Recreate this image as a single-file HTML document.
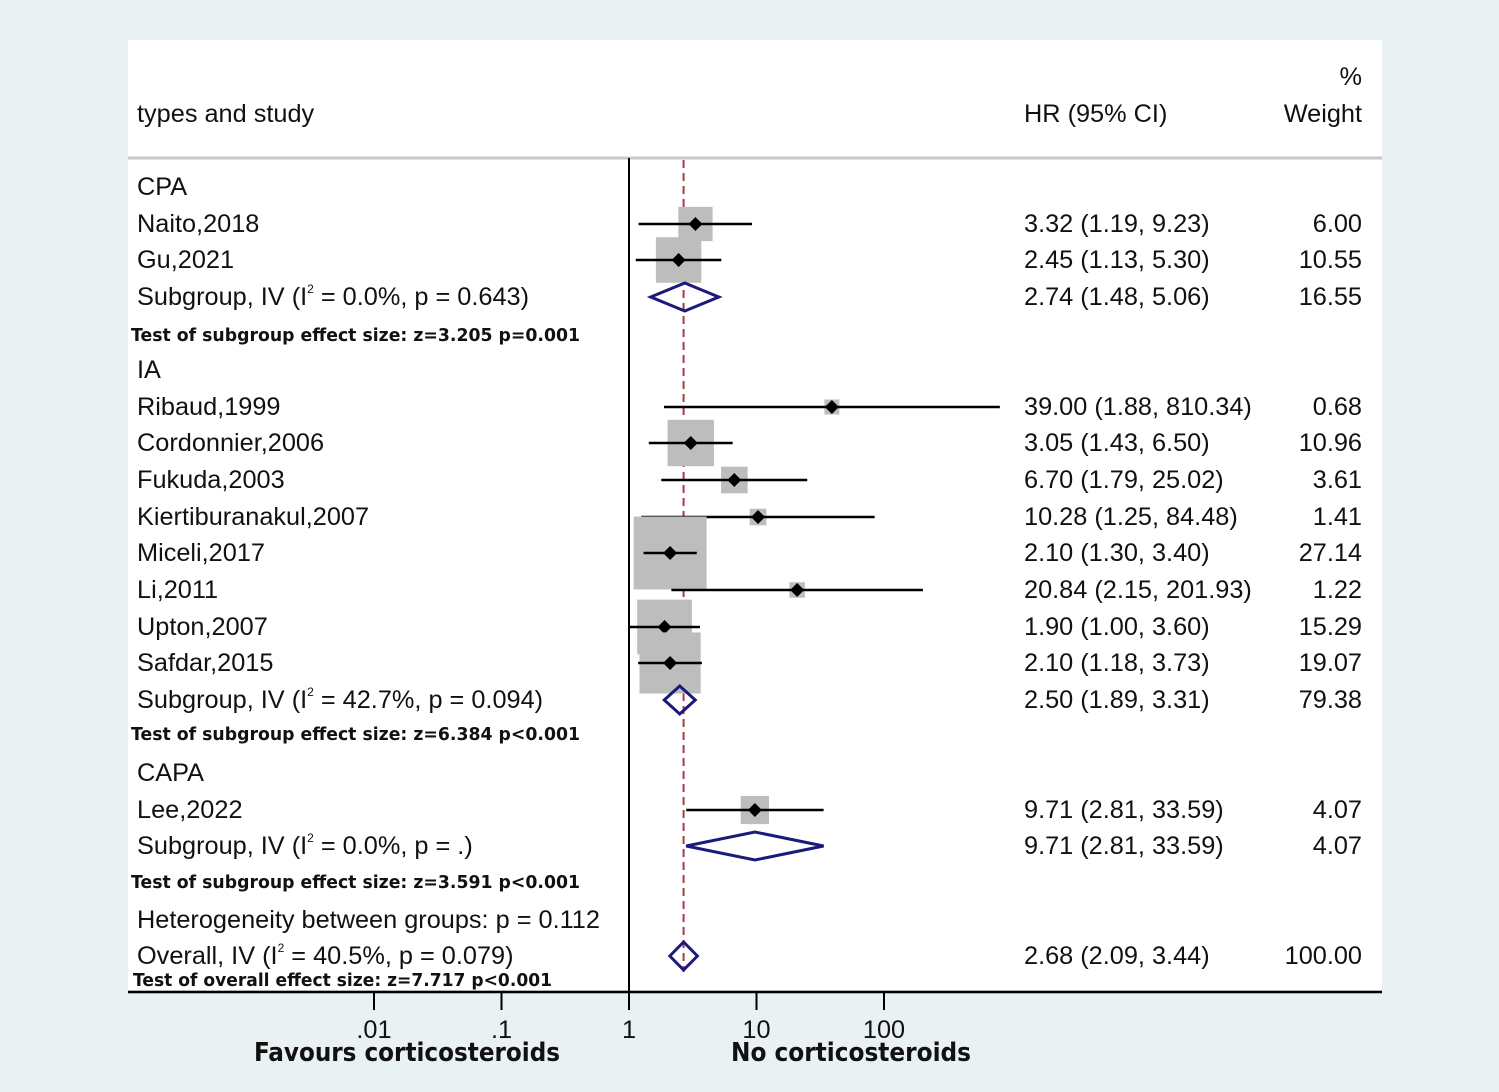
<!DOCTYPE html>
<html><head><meta charset="utf-8"><style>
body{margin:0;background:#e9f1f3;}
svg{display:block}
text{font-family:"Liberation Sans",sans-serif;fill:#111;}
.t{font-size:25.3px}
.s{font-family:"DejaVu Sans",sans-serif;font-size:18px;font-weight:bold;}
.ax{font-family:"DejaVu Sans Condensed","DejaVu Sans",sans-serif;font-size:26px;font-weight:bold;}
</style></head><body>
<svg id="chart" width="1499" height="1092" viewBox="0 0 1499 1092">
<rect x="0" y="0" width="1499" height="1092" fill="#e9f1f3"/>
<rect x="128" y="40" width="1254" height="950" fill="#fff"/>
<text class="t" x="137" y="122">types and study</text>
<text class="t" x="1024" y="122">HR (95% CI)</text>
<text class="t" x="1362" y="85" text-anchor="end">%</text>
<text class="t" x="1362" y="122" text-anchor="end">Weight</text>
<line x1="128" y1="158" x2="1382" y2="158" stroke="#c8c8c8" stroke-width="3"/>
<g id="rows"></g>
<g id="marks"></g>
<line x1="629" y1="158" x2="629" y2="992" stroke="#000" stroke-width="2"/>
<line x1="128" y1="992" x2="1382" y2="992" stroke="#000" stroke-width="2.5"/>
<g id="ticks"></g>
<text class="ax" x="407" y="1061" text-anchor="middle" textLength="306" lengthAdjust="spacingAndGlyphs">Favours corticosteroids</text>
<text class="ax" x="851" y="1061" text-anchor="middle" textLength="240" lengthAdjust="spacingAndGlyphs">No corticosteroids</text>
</svg>
<script>
const NS="http://www.w3.org/2000/svg";
const tickVals=[0.01,0.1,1,10,100];
const tickLabels=[".01",".1","1","10","100"];
const rowLabels=["CPA","Naito,2018","Gu,2021","Subgroup, IV (I|2| = 0.0%, p = 0.643)","Test of subgroup effect size: z=3.205 p=0.001","IA","Ribaud,1999","Cordonnier,2006","Fukuda,2003","Kiertiburanakul,2007","Miceli,2017","Li,2011","Upton,2007","Safdar,2015","Subgroup, IV (I|2| = 42.7%, p = 0.094)","Test of subgroup effect size: z=6.384 p<0.001","CAPA","Lee,2022","Subgroup, IV (I|2| = 0.0%, p = .)","Test of subgroup effect size: z=3.591 p<0.001","Heterogeneity between groups: p = 0.112","Overall, IV (I|2| = 40.5%, p = 0.079)","Test of overall effect size: z=7.717 p<0.001"];
const rowKinds=["h","s","s","d","x","h","s","s","s","s","s","s","s","s","d","x","h","s","d","x","h","d","x"];
const rowY=[187,224,260,297,334,370,407,443,480,517,553,590,627,663,700,733,773,810,846,881,920,956,979];
const hr=[null,3.32,2.45,2.74,null,null,39.00,3.05,6.70,10.28,2.10,20.84,1.90,2.10,2.50,null,null,9.71,9.71,null,null,2.68,null];
const lo=[null,1.19,1.13,1.48,null,null,1.88,1.43,1.79,1.25,1.30,2.15,1.00,1.18,1.89,null,null,2.81,2.81,null,null,2.09,null];
const hi=[null,9.23,5.30,5.06,null,null,810.34,6.50,25.02,84.48,3.40,201.93,3.60,3.73,3.31,null,null,33.59,33.59,null,null,3.44,null];
const weights=[null,6.00,10.55,16.55,null,null,0.68,10.96,3.61,1.41,27.14,1.22,15.29,19.07,79.38,null,null,4.07,4.07,null,null,100.00,null];
const overallHR=2.68;
function xs(v){return 629+127.5*Math.log10(v);}
function fmt(v){return v.toFixed(2);}
const rows=document.getElementById('rows'),marks=document.getElementById('marks'),ticks=document.getElementById('ticks');
function mk(tag,attrs,parent){const e=document.createElementNS(NS,tag);for(const k in attrs)e.setAttribute(k,attrs[k]);parent.appendChild(e);return e;}
const ol=mk('line',{x1:xs(overallHR),x2:xs(overallHR),y1:160,y2:972,stroke:'#a83a48','stroke-width':2,'stroke-dasharray':'8,5'},marks);


rowLabels.forEach((lab,i)=>{
  const y=rowY[i],k=rowKinds[i];
  const t=mk('text',{x:k==='x'?131:137,y:y+8,class:k==='x'?'s':'t'},rows);
  
  
  if(k==='x'){
    const overall=lab.indexOf('overall')>=0;
    t.setAttribute('x',overall?133:131);
    t.setAttribute('textLength',overall?419:449);t.setAttribute('lengthAdjust','spacingAndGlyphs');t.setAttribute('y',y+7);
  }
  const parts=lab.split('|');
  if(parts.length===3){
    t.appendChild(document.createTextNode(parts[0]));
    const sp=mk('tspan',{dy:-12,'font-size':'12px'},t);sp.textContent=parts[1];
    const sp2=mk('tspan',{dy:12},t);sp2.textContent=parts[2];
  } else t.textContent=lab;
  if(hr[i]!==null){
    const c=mk('text',{x:1024,y:y+8,class:'t'},rows);c.textContent=fmt(hr[i])+' ('+fmt(lo[i])+', '+fmt(hi[i])+')';
    
    
    const w=mk('text',{x:1362,y:y+8,class:'t','text-anchor':'end'},rows);w.textContent=fmt(weights[i]);
    
    
    if(k==='s'){
      const side=Math.max(15,14*Math.sqrt(weights[i])),cx=xs(hr[i]);
      const b=mk('rect',{x:cx-side/2,y:y-side/2,width:side,height:side,fill:'#bdbdbd'},marks);
      
      
      const l=mk('line',{x1:xs(lo[i]),x2:xs(hi[i]),y1:y,y2:y,stroke:'#000','stroke-width':2.5},marks);
      
      
      const p=mk('polygon',{points:`${cx-7},${y} ${cx},${y-7} ${cx+7},${y} ${cx},${y+7}`,fill:'#000'},marks);
      
      
    } else {
      const cx=xs(hr[i]);
      const d=mk('polygon',{points:`${xs(lo[i])},${y} ${cx},${y-14} ${xs(hi[i])},${y} ${cx},${y+14}`,fill:'none',stroke:'#1a1a7a','stroke-width':3},marks);
      
      
    }
  }
});
tickVals.forEach((v,i)=>{
  const x=xs(v);
  const l=mk('line',{x1:x,x2:x,y1:992,y2:1010,stroke:'#000','stroke-width':2},ticks);
  
  
  const t=mk('text',{x:x,y:1038,'text-anchor':'middle',class:'t'},ticks);t.textContent=tickLabels[i];
  
  
});
</script>
</body></html>
